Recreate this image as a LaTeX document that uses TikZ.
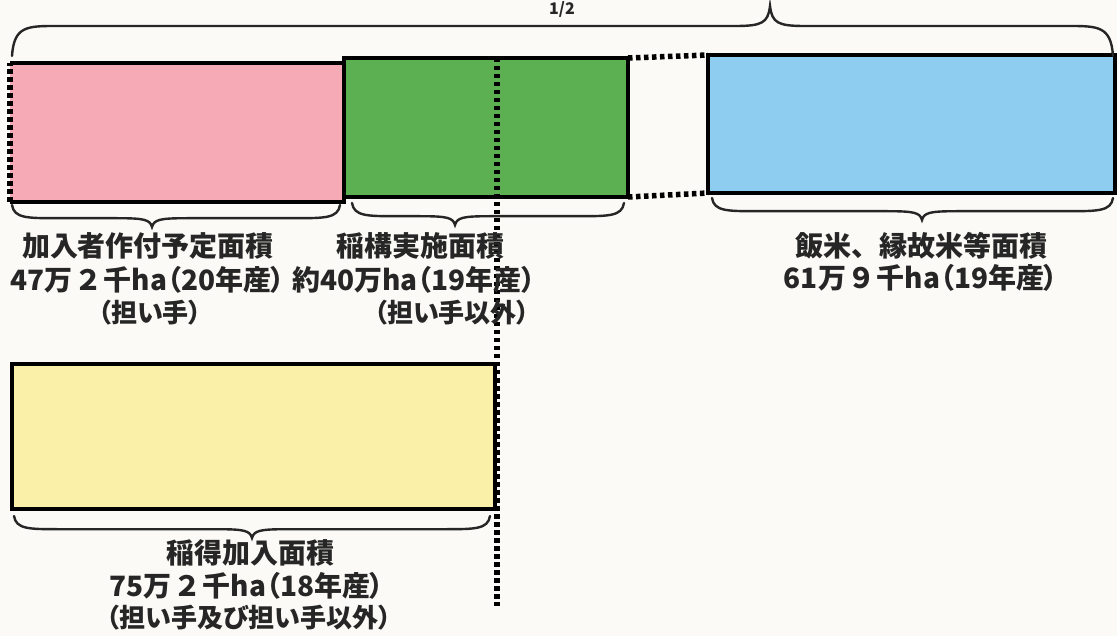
\documentclass[tikz,border=0pt]{standalone}
\usepackage{fontspec}
\newfontfamily\jp{Noto Sans CJK JP}
\newfontfamily\jpp{Noto Sans CJK JP}[RawFeature=+palt]
\definecolor{bgc}{HTML}{FBFAF6}
\definecolor{pinkc}{HTML}{F5AAB6}
\definecolor{greenc}{HTML}{5CB052}
\definecolor{bluec}{HTML}{8ECDEF}
\definecolor{yellowc}{HTML}{FBF0A8}
\definecolor{inkc}{HTML}{262626}
\newcommand\mybrace[5]{%
 \draw[bracel] (#1,#4) .. controls (#1+2,#4+#5*0.6) and (#1+15,#4+#5*0.6) .. (#1+45,#4+#5*0.6)
   -- (#3-35,#4+#5*0.6) .. controls (#3-8,#4+#5*0.6) and (#3-2,#4+#5*0.66) .. (#3,#4+#5)
   .. controls (#3+2,#4+#5*0.66) and (#3+8,#4+#5*0.6) .. (#3+35,#4+#5*0.6)
   -- (#2-45,#4+#5*0.6) .. controls (#2-15,#4+#5*0.6) and (#2-2,#4+#5*0.6) .. (#2,#4);}
\tikzset{
  area/.style={draw=none, inner sep=0pt, outer sep=0pt, anchor=north west},
  frame/.style={draw=black, line width=4.2pt, line join=miter},
  dotline/.style={draw=black, line width=5.5pt, dash pattern=on 4.5pt off 3.5pt},
  vdot/.style={draw=black, line width=5.5pt, dash pattern=on 4.5pt off 3.5pt},
  bracel/.style={draw=inkc, line width=2.4pt, line cap=round},
  lbl/.style={text=inkc, inner sep=0pt, font=\jp\bfseries\fontsize{28}{34}\selectfont},
  num/.style={text=inkc, inner sep=0pt, font=\jpp\bfseries\fontsize{28}{34}\selectfont},
  sub/.style={text=inkc, inner sep=0pt, font=\jpp\bfseries\fontsize{26}{32}\selectfont},
}
\begin{document}
\begin{tikzpicture}[x=1pt,y=-1pt]
\fill[bgc] (0,0) rectangle (1117,636);
\useasboundingbox (0,0) rectangle (1117,636);
% heading fragment
\node[text=inkc, inner sep=0pt, anchor=north, font=\jpp\bfseries\fontsize{16}{18}\selectfont] (half) at (562,1) {1/2};
% rectangles
\node[area, fill=pinkc, minimum width=334pt, minimum height=139pt] (pink) at (10,63) {};
\node[area, fill=greenc, minimum width=284pt, minimum height=139pt] (green) at (344,58) {};
\node[area, fill=bluec, minimum width=407pt, minimum height=138pt] (blue) at (708,55) {};
\node[area, fill=yellowc, minimum width=483pt, minimum height=145pt] (yellow) at (12,364) {};
% borders
\draw[frame] (pink.north west) -- (pink.north east) -- (pink.south east) -- (pink.south west);
\draw[dotline] (pink.south west) -- (pink.north west);
\draw[frame] (green.north west) rectangle (green.south east);
\draw[frame] (blue.north west) rectangle (blue.south east);
\draw[frame] (yellow.north west) rectangle (yellow.south east);
\draw[dotline] (green.north east) -- (blue.north west);
\draw[dotline] (green.south east) -- (blue.south west);
% vertical dotted divider
\coordinate (vtop) at (497,58);
\coordinate (vbot) at (497,606);
\draw[vdot] (vtop) -- (vbot);
% braces
\mybrace{12}{1113}{770}{56}{-50}
\mybrace{12}{340}{152}{205}{22}
\mybrace{352}{624}{455}{203}{22}
\mybrace{712}{1113}{922}{198}{22}
\mybrace{14}{490}{252}{516}{22}
% labels
\node[lbl] (p1) at (148,246) {加入者作付予定面積};
\node[num] (p2) at (148,280) {47万\,２\,千ha（20年産）};
\node[sub] (p3) at (150,313) {（担い手）};
\node[lbl] (g1) at (420,246) {稲構実施面積};
\node[num] (g2) at (414,280) {約40万ha（19年産）};
\node[sub] (g3) at (452,313) {（担い手以外）};
\node[lbl] (b1) at (921,246) {飯米、縁故米等面積};
\node[num] (b2) at (921,278) {61万\,９\,千ha（19年産）};
\node[lbl] (y1) at (250,553) {稲得加入面積};
\node[num] (y2) at (247,586) {75万\,２\,千ha（18年産）};
\node[sub] (y3) at (249,618) {（担い手及び担い手以外）};
\end{tikzpicture}
\end{document}
